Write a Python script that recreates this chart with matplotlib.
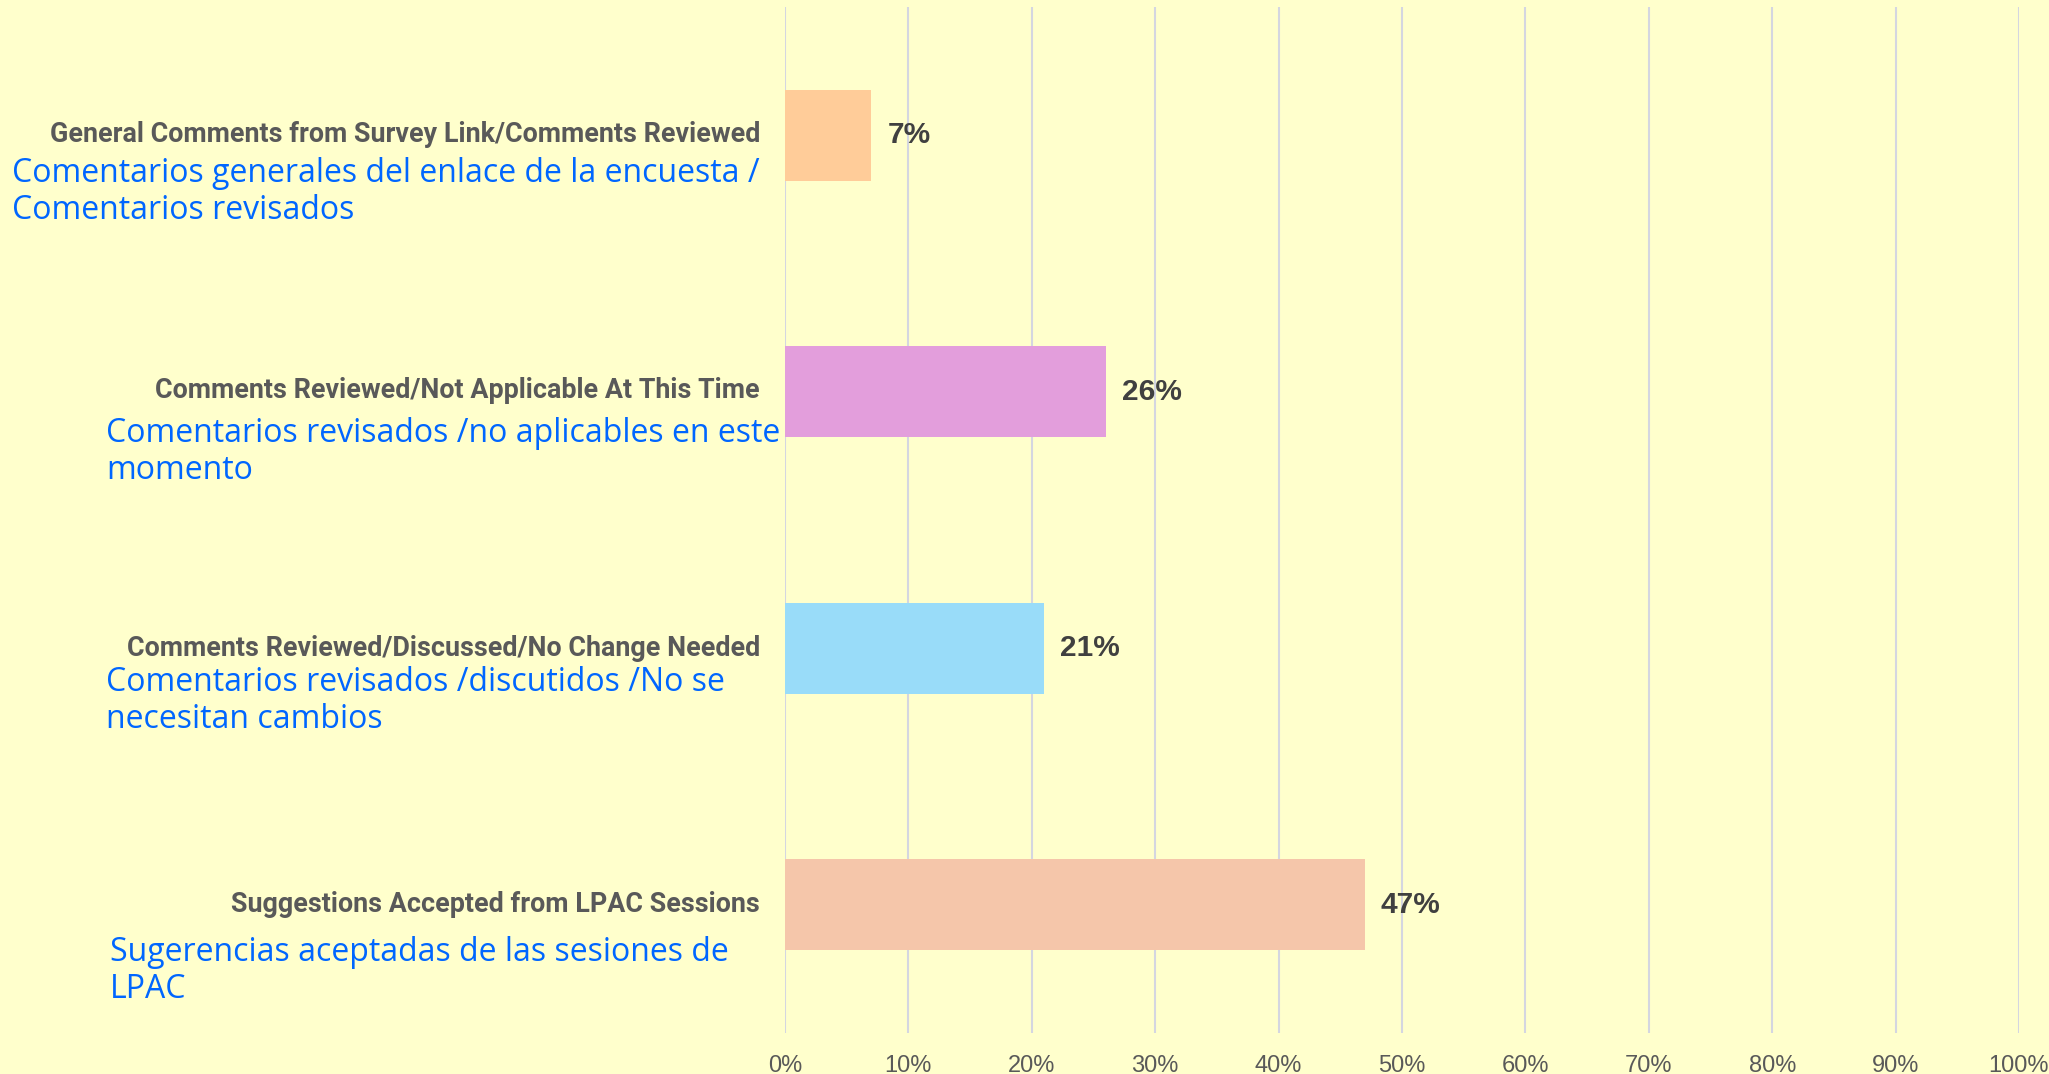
import matplotlib.pyplot as plt

# ============================================================
# DATA
# ============================================================

CATEGORIES_EN = [
    "General Comments from Survey Link/Comments Reviewed",
    "Comments Reviewed/Not Applicable At This Time",
    "Comments Reviewed/Discussed/No Change Needed",
    "Suggestions Accepted from LPAC Sessions",
]

CATEGORIES_ES = [
    "Comentarios generales del enlace de la encuesta /\nComentarios revisados",
    "Comentarios revisados /no aplicables en este\nmomento",
    "Comentarios revisados /discutidos /No se\nnecesitan cambios",
    "Sugerencias aceptadas de las sesiones de\nLPAC",
]

VALUES = [7, 26, 21, 47]

BAR_COLORS = ["#FFCC99", "#E39EDC", "#99DCF9", "#F5C6AA"]

TICKS = list(range(0, 101, 10))
TICK_LABELS = [f"{t}%" for t in TICKS]

# ============================================================
# FIGURE
# ============================================================

W, H = 2049, 1074
BG = "#FFFFCC"

fig = plt.figure(figsize=(W / 100, H / 100), dpi=100, facecolor=BG)

ax = fig.add_axes([785 / W, 1 - 1033 / H, (2019 - 785) / W, (1033 - 7) / H])
ax.set_facecolor(BG)

ypos = list(range(len(VALUES)))

ax.barh(ypos, VALUES, height=0.355, color=BAR_COLORS, zorder=3)

for y, v in zip(ypos, VALUES):
    ax.annotate(
        f"{v}%",
        xy=(v, y),
        xytext=(16, 0),
        textcoords="offset pixels",
        ha="left",
        va="center",
        fontsize=21.5,
        fontweight="bold",
        color="#404040",
        family=["Liberation Sans", "DejaVu Sans"],
    )

ax.set_xlim(0, 100)
ax.set_ylim(3.5, -0.5)

ax.set_xticks(TICKS)
ax.set_xticklabels(TICK_LABELS)
ax.set_yticks([])

ax.tick_params(axis="x", length=0, pad=16, labelsize=17, labelcolor="#595959")
for lab in ax.get_xticklabels():
    lab.set_family(["Liberation Sans Narrow", "Liberation Sans", "DejaVu Sans"])

ax.grid(axis="x", color="#D4D6E0", linewidth=1.5, zorder=0)

for s in ax.spines.values():
    s.set_visible(False)

# ============================================================
# CATEGORY LABELS (English + Spanish)
# ============================================================

EN_Y = [134, 391, 648, 905]
ES_X = [12, 106, 106, 110]
ES_Y = [171, 431, 680, 950]

for i in range(len(CATEGORIES_EN)):

    fig.text(
        760 / W,
        1 - EN_Y[i] / H,
        CATEGORIES_EN[i],
        ha="right",
        va="center",
        fontsize=19.4,
        fontweight="bold",
        color="#595959",
        family=["Roboto", "DejaVu Sans"],
    )

    fig.text(
        ES_X[i] / W,
        1 - (ES_Y[i] - 14) / H,
        CATEGORIES_ES[i],
        ha="left",
        va="top",
        fontsize=23.0,
        color="#0066FF",
        linespacing=1.17,
        family=["Open Sans", "DejaVu Sans"],
    )

fig.savefig("out.png", dpi=100, facecolor=BG)
